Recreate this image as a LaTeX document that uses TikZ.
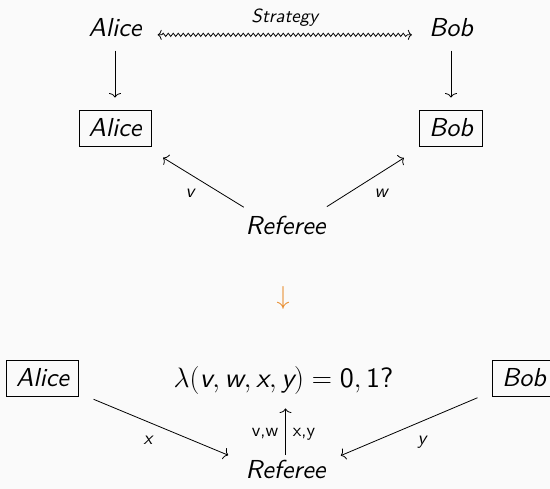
\RequirePackage{fix-cm}
\documentclass[tikz,border=0pt]{standalone}
\usepackage{fontspec}
\setsansfont{lmsans10-regular.otf}[ItalicFont=lmsans10-oblique.otf, SlantedFont=lmsans10-oblique.otf]
\usetikzlibrary{arrows.meta,decorations.pathmorphing}
\definecolor{bgc}{RGB}{250,250,250}
\definecolor{arrorange}{RGB}{232,140,45}
\newcommand\msl[1]{\mbox{\sffamily\slshape #1}}
\newcommand\msf[1]{\mbox{\sffamily\upshape #1}}
\tikzset{
  main/.style={font=\fontsize{26}{31}\selectfont\sffamily\slshape, inner sep=3.33pt},
  formula/.style={font=\fontsize{28}{33}\selectfont\sffamily\slshape, inner sep=3.33pt},
  boxed/.style={main, draw, line width=0.8pt, inner xsep=9.5pt, inner ysep=9pt},
  lbl/.style={font=\fontsize{19}{23}\selectfont\sffamily\slshape, inner sep=0pt},
  lblup/.style={font=\fontsize{18.5}{22}\selectfont\sffamily\upshape, inner sep=0pt},
  conn/.style={-{To[length=4.5pt,width=12pt]}, line width=0.8pt},
  wavy/.style={{To[length=4pt,width=10pt]}-{To[length=4pt,width=10pt]}, line width=0.8pt,
    decorate, decoration={snake, amplitude=1.6pt, segment length=5pt, pre length=4pt, post length=4pt}},
}
\begin{document}
\begin{tikzpicture}[x=1pt,y=1pt]
\fill[bgc] (0,0) rectangle (550,489);
\useasboundingbox (0,0) rectangle (550,489);
% top part
\node[main, anchor=base] (aliceT) at (115,452) {Alice};
\node[main, anchor=base] (bobT) at (451,452) {Bob};
\draw[wavy] ([xshift=12.7pt]aliceT.mid east) -- ([xshift=-13.7pt]bobT.mid west)
  node[lbl, midway, anchor=base, yshift=12pt] (strat) {Strategy};
\node[boxed, anchor=base] (aliceB) at (115,352) {Alice};
\node[boxed, anchor=base] (bobB) at (451,352) {Bob};
\draw[conn, shorten <=9.7pt, shorten >=12pt] (aliceT) -- (aliceB);
\draw[conn, shorten <=9.7pt, shorten >=12pt] (bobT) -- (bobB);
\node[main, anchor=base] (refT) at (285.5,254) {Referee};
\draw[conn, shorten <=49pt, shorten >=21pt] (refT.mid) -- (aliceB);
\draw[conn, shorten <=49pt, shorten >=21pt] (refT.mid) -- (bobB);
\node[lbl, anchor=base] (lv) at (190,291) {v};
\node[lbl, anchor=base] (lw) at (381,291) {w};
% orange arrow
\node[main, text=arrorange, anchor=center] (down) at (283,191) {$\downarrow$};
% bottom part
\node[boxed, anchor=base] (aliceC) at (42.5,102) {Alice};
\node[boxed, anchor=base] (bobC) at (524,102) {Bob};
\node[formula, anchor=base] (lam) at (283.5,101)
  {$\lambda(\msl{v},\msl{w},\msl{x},\msl{y})=\msf{0},\msf{1}\msf{?}$};
\node[main, anchor=base] (refC) at (285.5,10) {Referee};
\draw[conn, shorten <=2pt, shorten >=10pt] (refC.north) -- (refC.north |- lam.south);
\draw[conn, shorten <=16pt, shorten >=62pt] (aliceC) -- (refC.base);
\draw[conn, shorten <=16pt, shorten >=60pt] (bobC) -- (refC.base);
\node[lbl, anchor=base] (lx) at (148,44) {x};
\node[lbl, anchor=base] (ly) at (422,44) {y};
\node[lblup, anchor=base] (lvw) at (265,52) {v,w};
\node[lblup, anchor=base] (lxy) at (304,52) {x,y};
\end{tikzpicture}
\end{document}
